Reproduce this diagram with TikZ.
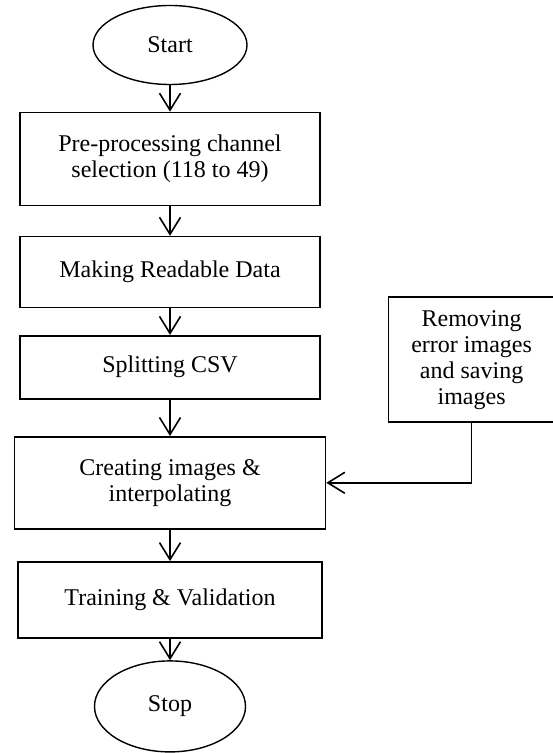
\documentclass[tikz,border=0pt]{standalone}
\usepackage{fontspec}
\setmainfont{Liberation Serif}
\usetikzlibrary{arrows.meta,positioning,shapes.geometric}

\begin{document}
\begin{tikzpicture}[
    box/.style={draw, line width=0.8pt, minimum width=150pt, align=center, inner sep=2pt, font=\fontsize{12}{13}\selectfont},
    term/.style={draw, ellipse, line width=0.7pt, minimum width=77pt, minimum height=39.5pt, inner sep=0pt, font=\fontsize{12}{13}\selectfont},
    >={Straight Barb[length=8.5pt, width=10.5pt]}
]
\useasboundingbox (0,0) rectangle (276pt,-376.5pt);
\node[term] (start) at (85pt,-22.5pt) {Start};
\node[box, minimum height=46.5pt, below=13.25pt of start] (chansel) {Pre-processing channel\\selection (118 to 49)};
\node[box, minimum height=35.5pt, below=14.75pt of chansel] (readable) {Making Readable Data};
\node[box, minimum height=31.5pt, below=13.25pt of readable] (splitcsv) {Splitting CSV};
\node[box, minimum width=155.5pt, minimum height=46pt, below=18.25pt of splitcsv] (images) {Creating images \&\\interpolating};
\node[box, minimum width=152pt, minimum height=38pt, below=15.75pt of images] (training) {Training \& Validation};
\node[term, minimum width=75.5pt, minimum height=45.5pt, below=10.75pt of training] (stop) {Stop};
\node[box, minimum width=83pt, minimum height=62.5pt, right=33.5pt of splitcsv, yshift=3.75pt] (removing) {Removing\\error images\\and saving\\images};

\draw[->, line width=0.8pt] (start) -- (chansel);
\draw[->, line width=0.8pt] (chansel) -- (readable);
\draw[->, line width=0.8pt] (readable) -- (splitcsv);
\draw[->, line width=0.8pt] (splitcsv) -- (images);
\draw[->, line width=0.8pt] (images) -- (training);
\draw[->, line width=0.8pt] (training) -- (stop);
\draw[->, line width=0.8pt] (removing.south) |- (images.east);
\end{tikzpicture}
\end{document}
